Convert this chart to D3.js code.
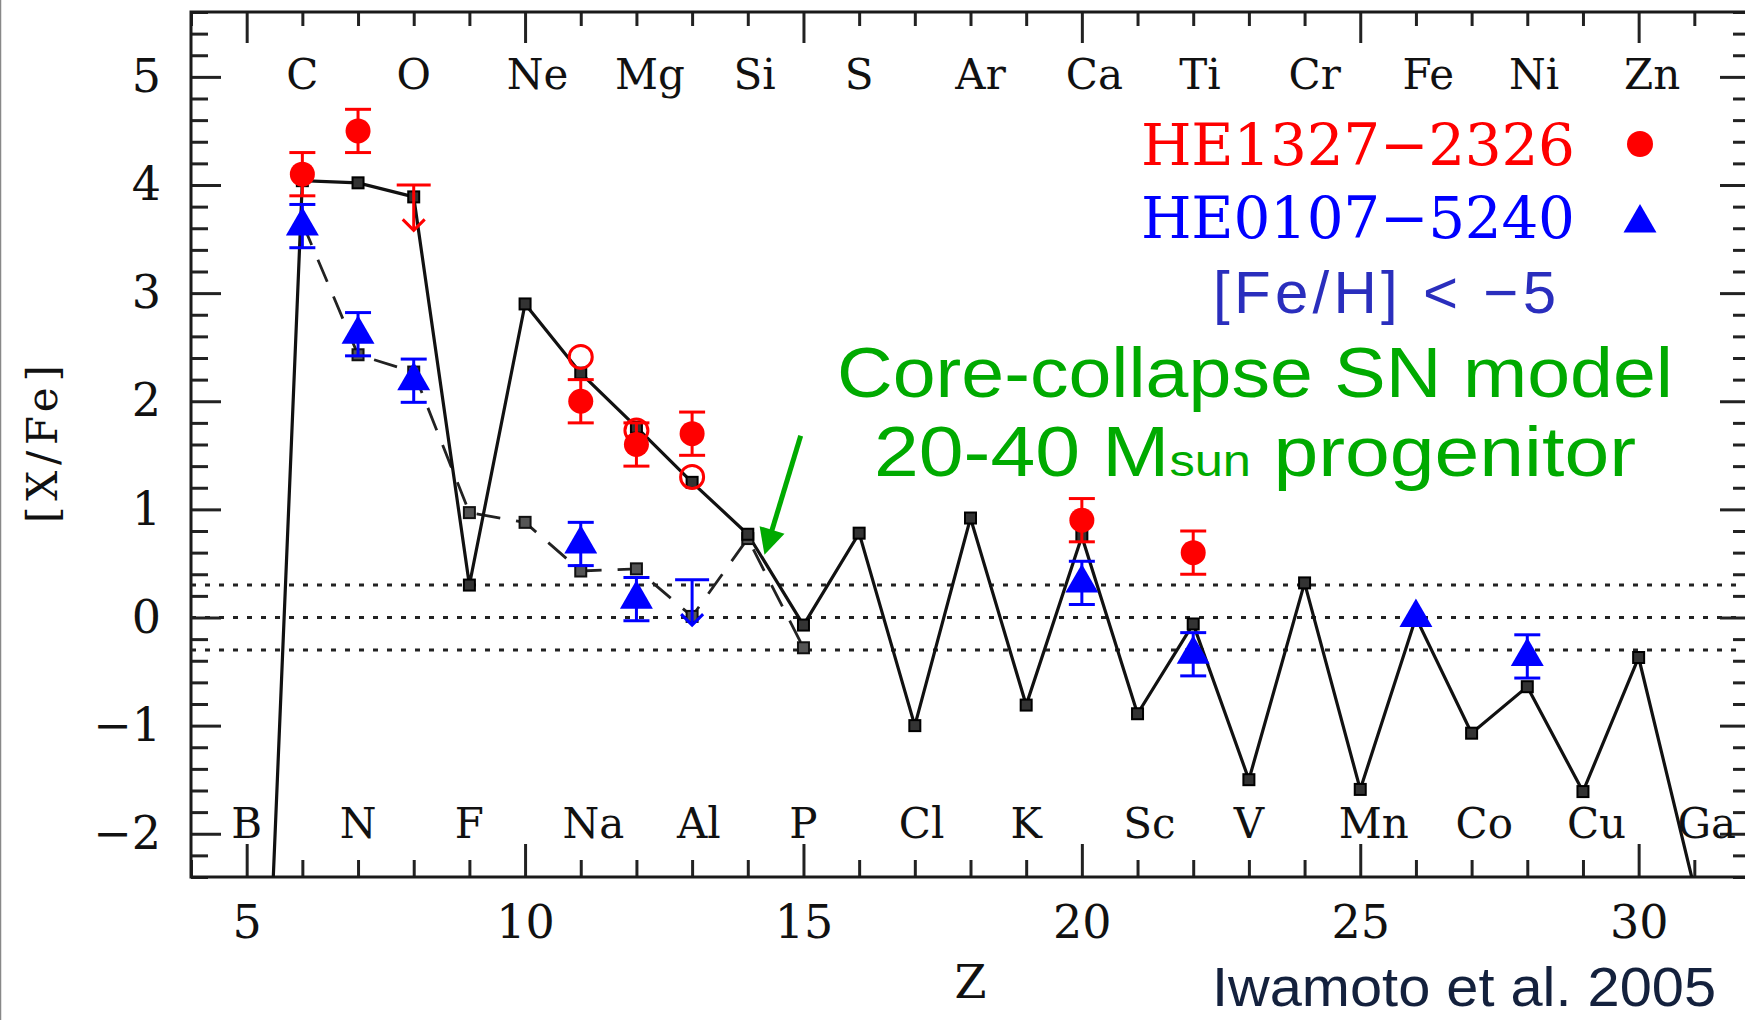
<!DOCTYPE html>
<html>
<head>
<meta charset="utf-8">
<script src="https://cdn.jsdelivr.net/npm/d3@7"></script>
<style>
  html, body { margin: 0; padding: 0; background: #fff; }
  svg { display: block; }
</style>
</head>
<body>
<div id="chart"></div>
<script>
// element names: even Z on the top row, odd Z on the bottom row
const topZ = [6, 8, 10, 12, 14, 16, 18, 20, 22, 24, 26, 28, 30];
const topNames = ['C', 'O', 'Ne', 'Mg', 'Si', 'S', 'Ar', 'Ca', 'Ti', 'Cr', 'Fe', 'Ni', 'Zn'];
const bottomZ = [5, 7, 9, 11, 13, 15, 17, 19, 21, 23, 25, 27, 29, 31];
const bottomNames = ['B', 'N', 'F', 'Na', 'Al', 'P', 'Cl', 'K', 'Sc', 'V', 'Mn', 'Co', 'Cu', 'Ga'];

const xTicks = [5, 10, 15, 20, 25, 30];
const yTicks = [-2, -1, 0, 1, 2, 3, 4, 5];
const refLevels = [0.3, 0, -0.3];

// core-collapse SN model (solid line)
const modelZ = [5, 6, 7, 8, 9, 10, 11, 12, 13, 14, 15, 16, 17, 18, 19, 20, 21, 22, 23, 24, 25, 26, 27, 28, 29, 30, 31];
const modelVals = [-8.3, 4.04, 4.02, 3.89, 0.30, 2.90, 2.26, 1.76, 1.25, 0.77, -0.07, 0.78, -1.00, 0.92, -0.81, 0.75, -0.89, -0.06, -1.50, 0.32, -1.59, 0.00, -1.07, -0.64, -1.61, -0.37, -2.5];

// second model (dashed line)
const model2Z = [6, 7, 8, 9, 10, 11, 12, 13, 14, 15];
const model2Vals = [3.65, 2.43, 2.27, 0.97, 0.88, 0.43, 0.45, 0.01, 0.73, -0.28];

// HE1327-2326 (red)
const redZ = [6, 7, 11, 12, 13, 20, 22];
const redVals = [4.10, 4.50, 2.00, 1.60, 1.70, 0.90, 0.60];
const redErr = [0.2, 0.2, 0.2, 0.2, 0.2, 0.2, 0.2];
const redOpenZ = [11, 12, 13];
const redOpenVals = [2.41, 1.73, 1.30];
const redLimZ = [8];
const redLimVals = [4.0];

// HE0107-5240 (blue)
const blueZ = [6, 7, 8, 11, 12, 20, 22, 26, 28];
const blueVals = [3.62, 2.62, 2.19, 0.68, 0.17, 0.32, -0.34, 0.00, -0.36];
const blueErr = [0.2, 0.2, 0.2, 0.2, 0.2, 0.2, 0.2, 0, 0.2];
const blueLimZ = [13];
const blueLimVals = [0.35];

const W = 1745, H = 1020;
const plot = { left: 191, right: 1750, top: 12, bottom: 877 };
const serif = "'DejaVu Serif', 'Liberation Serif', serif";
const sans = "'Liberation Sans', Arial, sans-serif";
const RED = '#ff0000', BLUE = '#0000ff', GREEN = '#00aa00';

let svg = d3.select('#chart').append('svg')
  .attr('width', W)
  .attr('height', H);

svg.append('rect').attr('width', W).attr('height', H).attr('fill', '#fff');
// thin grey border at the very left of the slide
svg.append('line')
  .attr('x1', 0.5).attr('x2', 0.5).attr('y1', 0).attr('y2', H)
  .attr('stroke', '#888').attr('stroke-width', 1.5);

let x = d3.scaleLinear().domain([4, 32]).range([plot.left, plot.right]);
let y = d3.scaleLinear().domain([-2.4, 5.6]).range([plot.bottom, plot.top]);

svg.append('clipPath').attr('id', 'clip')
  .append('rect')
  .attr('x', plot.left).attr('y', plot.top)
  .attr('width', plot.right - plot.left).attr('height', plot.bottom - plot.top);

const xMinor = d3.range(4, 33).filter(d => d % 5 !== 0);
const yMinor = d3.range(-12, 29).map(d => d / 5).filter(d => Math.abs(d - Math.round(d)) > 1e-6);

function styleAxis(g) {
  g.select('.domain').remove();
  g.selectAll('.tick line').attr('stroke', '#222').attr('stroke-width', 3);
  g.selectAll('.tick text')
    .attr('fill', '#111')
    .style('font-family', serif)
    .style('font-size', '46px');
}

// bottom axis
svg.append('g')
  .attr('transform', `translate(0, ${plot.bottom})`)
  .call(d3.axisBottom(x).tickValues(xTicks).tickSize(-33).tickPadding(28))
  .call(styleAxis);
svg.append('g')
  .attr('transform', `translate(0, ${plot.bottom})`)
  .call(d3.axisBottom(x).tickValues(xMinor).tickSize(-17).tickFormat(''))
  .call(styleAxis);

// top axis
svg.append('g')
  .attr('transform', `translate(0, ${plot.top})`)
  .call(d3.axisTop(x).tickValues(xTicks).tickSize(-31).tickFormat(''))
  .call(styleAxis);
svg.append('g')
  .attr('transform', `translate(0, ${plot.top})`)
  .call(d3.axisTop(x).tickValues(xMinor).tickSize(-14).tickFormat(''))
  .call(styleAxis);

// left axis
svg.append('g')
  .attr('transform', `translate(${plot.left}, 0)`)
  .call(d3.axisLeft(y).tickValues(yTicks).tickSize(-30).tickPadding(30))
  .call(styleAxis);
svg.append('g')
  .attr('transform', `translate(${plot.left}, 0)`)
  .call(d3.axisLeft(y).tickValues(yMinor).tickSize(-17).tickFormat(''))
  .call(styleAxis);

// right axis (ticks only)
svg.append('g')
  .attr('transform', `translate(${plot.right}, 0)`)
  .call(d3.axisRight(y).tickValues(yTicks).tickSize(-30).tickFormat(''))
  .call(styleAxis);
svg.append('g')
  .attr('transform', `translate(${plot.right}, 0)`)
  .call(d3.axisRight(y).tickValues(yMinor).tickSize(-17).tickFormat(''))
  .call(styleAxis);

// frame
svg.append('rect')
  .attr('x', plot.left).attr('y', plot.top)
  .attr('width', plot.right - plot.left).attr('height', plot.bottom - plot.top)
  .attr('fill', 'none').attr('stroke', '#1a1a1a').attr('stroke-width', 3);

// axis titles
svg.append('text')
  .attr('x', x(18)).attr('y', 998)
  .attr('text-anchor', 'middle')
  .style('font-family', serif).style('font-size', '46px').attr('fill', '#111')
  .text('Z');

svg.append('text')
  .attr('transform', 'translate(57, 444) rotate(-90)')
  .attr('text-anchor', 'middle')
  .attr('textLength', 158)
  .style('font-family', serif).style('font-size', '42px').attr('fill', '#111')
  .text('[X/Fe]');

// element labels: first letter sits centred on its Z
function elementRow(zs, names, baseline) {
  svg.append('g').selectAll('text')
    .data(zs)
    .enter().append('text')
    .attr('y', baseline)
    .style('font-family', serif).style('font-size', '42px').attr('fill', '#111')
    .text((d, i) => names[i])
    .attr('x', function (d) {
      let w = this.getSubStringLength(0, 1);
      return x(d) - w / 2;
    });
}
elementRow(topZ, topNames, 89);
elementRow(bottomZ, bottomNames, 838);

let inner = svg.append('g').attr('clip-path', 'url(#clip)');

// dotted reference lines at 0 and +-0.3
inner.selectAll('.ref')
  .data(refLevels)
  .enter().append('line')
  .attr('class', 'ref')
  .attr('x1', plot.left).attr('x2', plot.right)
  .attr('y1', d => y(d)).attr('y2', d => y(d))
  .attr('stroke', '#222').attr('stroke-width', 3)
  .attr('stroke-dasharray', '5,9');

let line = d3.line().x(d => x(d[0])).y(d => y(d[1]));

let model = modelZ.map((z, i) => [z, modelVals[i]]);
let model2 = model2Z.map((z, i) => [z, model2Vals[i]]);

inner.append('path')
  .datum(model2)
  .attr('d', line)
  .attr('fill', 'none').attr('stroke', '#222').attr('stroke-width', 2.8)
  .attr('stroke-dasharray', '24,16');

inner.append('path')
  .datum(model)
  .attr('d', line)
  .attr('fill', 'none').attr('stroke', '#111').attr('stroke-width', 3.2)
  .attr('stroke-linejoin', 'miter');

let sq = 11;
inner.selectAll('.sq2')
  .data(model2.slice(1))
  .enter().append('rect')
  .attr('class', 'sq2')
  .attr('x', d => x(d[0]) - sq / 2).attr('y', d => y(d[1]) - sq / 2)
  .attr('width', sq).attr('height', sq)
  .attr('fill', '#555').attr('stroke', '#111').attr('stroke-width', 2);

inner.selectAll('.sq')
  .data(model.filter(d => d[0] >= 6 && d[0] <= 30))
  .enter().append('rect')
  .attr('class', 'sq')
  .attr('x', d => x(d[0]) - sq / 2).attr('y', d => y(d[1]) - sq / 2)
  .attr('width', sq).attr('height', sq)
  .attr('fill', '#333').attr('stroke', '#000').attr('stroke-width', 2);

// error bars
function errorBars(zs, vals, errs, color) {
  let g = inner.append('g').attr('stroke', color).attr('stroke-width', 3);
  zs.forEach((z, i) => {
    if (!errs[i]) return;
    let cx = x(z), top = y(vals[i] + errs[i]), bot = y(vals[i] - errs[i]);
    g.append('line').attr('x1', cx).attr('x2', cx).attr('y1', top).attr('y2', bot);
    g.append('line').attr('x1', cx - 13).attr('x2', cx + 13).attr('y1', top).attr('y2', top);
    g.append('line').attr('x1', cx - 13).attr('x2', cx + 13).attr('y1', bot).attr('y2', bot);
  });
}

// upper limits: cap with a downward arrow
function upperLimits(zs, vals, color) {
  let g = inner.append('g').attr('stroke', color).attr('stroke-width', 3).attr('fill', 'none');
  zs.forEach((z, i) => {
    let cx = x(z), top = y(vals[i]), tip = y(vals[i] - 0.42);
    g.append('line').attr('x1', cx - 17).attr('x2', cx + 17).attr('y1', top).attr('y2', top);
    g.append('line').attr('x1', cx).attr('x2', cx).attr('y1', top).attr('y2', tip);
    g.append('polyline')
      .attr('points', `${cx - 11},${tip - 11} ${cx},${tip} ${cx + 11},${tip - 11}`);
  });
}

errorBars(redZ, redVals, redErr, RED);
errorBars(blueZ, blueVals, blueErr, BLUE);
upperLimits(redLimZ, redLimVals, RED);
upperLimits(blueLimZ, blueLimVals, BLUE);

inner.selectAll('.open')
  .data(redOpenZ)
  .enter().append('circle')
  .attr('class', 'open')
  .attr('cx', d => x(d)).attr('cy', (d, i) => y(redOpenVals[i]))
  .attr('r', 11.5)
  .attr('fill', 'none').attr('stroke', RED).attr('stroke-width', 3);

inner.selectAll('.red')
  .data(redZ)
  .enter().append('circle')
  .attr('class', 'red')
  .attr('cx', d => x(d)).attr('cy', (d, i) => y(redVals[i]))
  .attr('r', 12.5)
  .attr('fill', RED);

let tri = d3.symbol().type(d3.symbolTriangle).size(470);
inner.selectAll('.blue')
  .data(blueZ)
  .enter().append('path')
  .attr('class', 'blue')
  .attr('transform', (d, i) => `translate(${x(d)}, ${y(blueVals[i])})`)
  .attr('d', tri)
  .attr('fill', BLUE);

// legend
svg.append('text')
  .attr('x', 1141).attr('y', 165)
  .attr('textLength', 434)
  .style('font-family', serif).style('font-size', '58px').attr('fill', RED)
  .text('HE1327\u22122326');
svg.append('circle')
  .attr('cx', 1640).attr('cy', 144).attr('r', 13).attr('fill', RED);

svg.append('text')
  .attr('x', 1141).attr('y', 238)
  .attr('textLength', 434)
  .style('font-family', serif).style('font-size', '58px').attr('fill', BLUE)
  .text('HE0107\u22125240');
svg.append('path')
  .attr('transform', 'translate(1640, 223)')
  .attr('d', tri)
  .attr('fill', BLUE);

svg.append('text')
  .attr('x', 1213).attr('y', 313)
  .attr('textLength', 343)
  .style('font-family', sans).style('font-size', '60px').attr('fill', '#2a2ebd')
  .text('[Fe/H] < \u22125');

// model annotation (glyphs stretched to the width of the original lettering)
svg.append('text')
  .attr('x', 837).attr('y', 397)
  .attr('textLength', 836)
  .attr('lengthAdjust', 'spacingAndGlyphs')
  .style('font-family', sans).style('font-size', '70px').attr('fill', GREEN)
  .text('Core-collapse SN model');

let t2 = svg.append('text')
  .attr('x', 874).attr('y', 476)
  .attr('textLength', 762)
  .attr('lengthAdjust', 'spacingAndGlyphs')
  .style('font-family', sans).style('font-size', '70px').attr('fill', GREEN);
t2.append('tspan').text('20-40 M');
t2.append('tspan').style('font-size', '44px').text('sun');
t2.append('tspan').text(' progenitor');

// green arrow pointing at the model curve
let a0 = [x(14.95), y(1.68)], a1 = [x(14.30), y(0.58)];
let dx = a1[0] - a0[0], dy = a1[1] - a0[1];
let len = Math.sqrt(dx * dx + dy * dy);
let ux = dx / len, uy = dy / len;
let headL = 26, headW = 13;
let base = [a1[0] - ux * headL, a1[1] - uy * headL];
svg.append('line')
  .attr('x1', a0[0]).attr('y1', a0[1])
  .attr('x2', base[0] + ux * 4).attr('y2', base[1] + uy * 4)
  .attr('stroke', GREEN).attr('stroke-width', 5);
svg.append('polygon')
  .attr('points', [
    a1,
    [base[0] - uy * headW, base[1] + ux * headW],
    [base[0] + uy * headW, base[1] - ux * headW]
  ].map(p => p.join(',')).join(' '))
  .attr('fill', GREEN);

// citation
svg.append('text')
  .attr('x', 1212).attr('y', 1006)
  .attr('textLength', 504)
  .attr('lengthAdjust', 'spacingAndGlyphs')
  .style('font-family', sans).style('font-size', '56px')
  .attr('fill', '#14213d')
  .text('Iwamoto et al. 2005');
</script>
</body>
</html>
